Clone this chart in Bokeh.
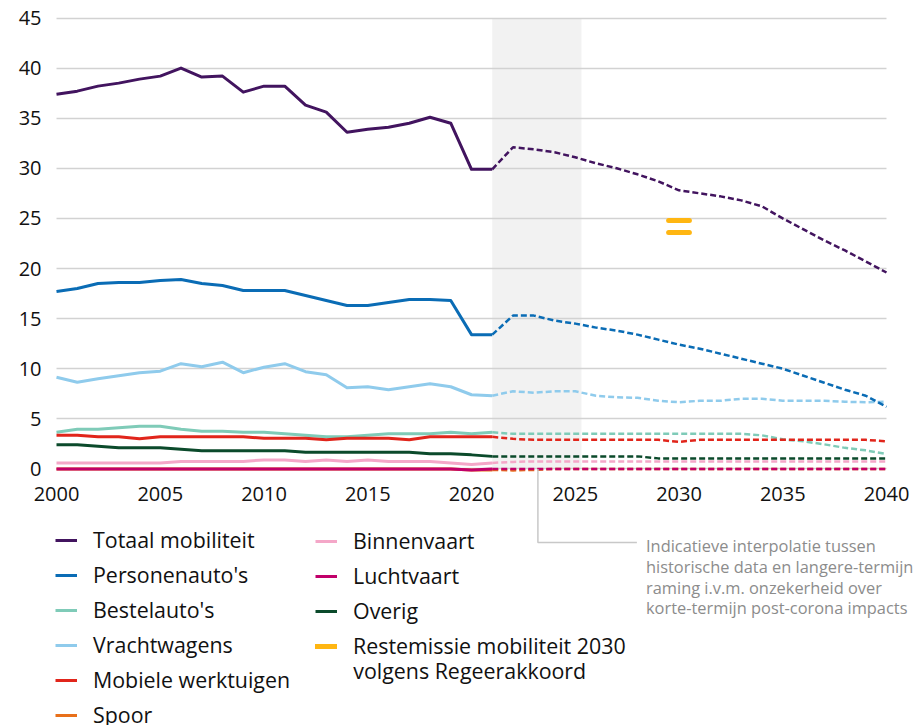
from bokeh.plotting import figure
from bokeh.models import Range1d, FixedTicker, Legend, LegendItem, Label
from bokeh.embed import file_html
from bokeh.resources import INLINE

# ---------------- data ----------------
years_hist = list(range(2000, 2022))
years_proj = list(range(2021, 2041))

totaal_hist = [37.4, 37.7, 38.2, 38.5, 38.9, 39.2, 40.0, 39.1, 39.2, 37.6, 38.2,
               38.2, 36.3, 35.6, 33.6, 33.9, 34.1, 34.5, 35.1, 34.5, 29.9, 29.9]
totaal_proj = [29.9, 32.1, 31.9, 31.6, 31.1, 30.5, 30.0, 29.4, 28.7, 27.8,
               27.5, 27.2, 26.8, 26.2, 25.0, 23.9, 22.8, 21.8, 20.7, 19.6]

personen_hist = [17.7, 18.0, 18.5, 18.6, 18.6, 18.8, 18.9, 18.5, 18.3, 17.8, 17.8,
                 17.8, 17.3, 16.8, 16.3, 16.3, 16.6, 16.9, 16.9, 16.8, 13.4, 13.4]
personen_proj = [13.4, 15.3, 15.3, 14.8, 14.5, 14.1, 13.8, 13.4, 12.9, 12.4,
                 12.0, 11.5, 11.0, 10.5, 10.0, 9.3, 8.6, 7.9, 7.3, 6.2]

bestel_hist = [3.65, 3.95, 3.95, 4.1, 4.25, 4.25, 3.95, 3.75, 3.75, 3.65, 3.65,
               3.5, 3.35, 3.2, 3.2, 3.35, 3.5, 3.5, 3.5, 3.65, 3.5, 3.65]
bestel_proj = [3.65, 3.5, 3.5, 3.5, 3.5, 3.5, 3.5, 3.5, 3.5, 3.5,
               3.5, 3.5, 3.5, 3.35, 2.95, 2.75, 2.45, 2.1, 1.85, 1.5]

vracht_hist = [9.15, 8.65, 9.0, 9.3, 9.6, 9.75, 10.5, 10.2, 10.65, 9.6, 10.15,
               10.5, 9.7, 9.4, 8.1, 8.2, 7.9, 8.2, 8.5, 8.2, 7.4, 7.3]
vracht_proj = [7.3, 7.75, 7.6, 7.75, 7.75, 7.3, 7.15, 7.1, 6.8, 6.65,
               6.8, 6.8, 7.0, 7.0, 6.8, 6.8, 6.8, 6.7, 6.65, 6.7]

mobiel_hist = [3.35, 3.35, 3.2, 3.2, 3.0, 3.2, 3.2, 3.2, 3.2, 3.2, 3.05,
               3.05, 3.05, 2.9, 3.05, 3.05, 3.05, 2.9, 3.2, 3.2, 3.2, 3.2]
mobiel_proj = [3.2, 3.0, 2.9, 2.9, 2.9, 2.9, 2.9, 2.9, 2.9, 2.7,
               2.9, 2.9, 2.9, 2.9, 2.9, 2.9, 2.9, 2.9, 2.9, 2.75]

spoor_hist = [0.0] * 20 + [-0.1, -0.1]
spoor_proj = [-0.1, -0.15, -0.1, 0.0, 0.0, 0.0, 0.0, 0.0, 0.0, 0.0,
              0.0, 0.0, 0.0, 0.0, 0.0, 0.0, 0.0, 0.0, 0.0, 0.0]

binnen_hist = [0.6, 0.6, 0.6, 0.6, 0.6, 0.6, 0.75, 0.75, 0.75, 0.75, 0.9,
               0.9, 0.75, 0.9, 0.75, 0.9, 0.75, 0.75, 0.75, 0.6, 0.45, 0.6]
binnen_proj = [0.6, 0.7] + [0.75] * 18

lucht_hist = [0.0] * 20 + [-0.1, 0.0]
lucht_proj = [0.0] * 20

overig_hist = [2.4, 2.4, 2.25, 2.1, 2.1, 2.1, 1.95, 1.8, 1.8, 1.8, 1.8,
               1.8, 1.65, 1.65, 1.65, 1.65, 1.65, 1.65, 1.5, 1.5, 1.4, 1.25]
overig_proj = [1.25] * 8 + [1.05] * 12

rest_year = 2030
rest_values = [24.8, 23.6]

band_start, band_end = 2021, 2025.3
x_ticks = [2000, 2005, 2010, 2015, 2020, 2025, 2030, 2035, 2040]
y_ticks = [0, 5, 10, 15, 20, 25, 30, 35, 40, 45]

series = [
    # name, hist, proj, colour
    ("Spoor", spoor_hist, spoor_proj, "#e8701a"),
    ("Luchtvaart", lucht_hist, lucht_proj, "#c1006a"),
    ("Binnenvaart", binnen_hist, binnen_proj, "#f4a7c8"),
    ("Overig", overig_hist, overig_proj, "#0b4a2b"),
    ("Bestelauto's", bestel_hist, bestel_proj, "#7fcbb8"),
    ("Mobiele werktuigen", mobiel_hist, mobiel_proj, "#e1251b"),
    ("Vrachtwagens", vracht_hist, vracht_proj, "#8fcbec"),
    ("Personenauto's", personen_hist, personen_proj, "#0a6cb5"),
    ("Totaal mobiliteit", totaal_hist, totaal_proj, "#42145f"),
]

FONT = "Open Sans"
W, H = 914, 725
PX_YR = 20.75      # pixels per year
PX_UNIT = 10.02    # pixels per Mton

p = figure(width=W, height=H,
           x_range=Range1d(2000 - 56 / PX_YR, 2040 + 28 / PX_YR),
           y_range=Range1d(-(H - 468.4) / PX_UNIT, 45 + 17.5 / PX_UNIT),
           output_backend="svg", toolbar_location=None,
           min_border=0, min_border_left=0, min_border_right=0,
           min_border_top=0, min_border_bottom=0)
p.outline_line_color = None
p.background_fill_color = "white"

# shaded interpolation band
p.quad(left=[band_start], right=[band_end], bottom=[0], top=[45],
       fill_color="#f2f2f2", line_color=None, level="image")

# grid
p.xgrid.visible = False
p.ygrid.ticker = FixedTicker(ticks=y_ticks)
p.ygrid.grid_line_color = "#d2d2d2"
p.ygrid.grid_line_width = 1.5
p.ygrid.cross_bounds = (2000, 2040)

# axes (drawn inside the frame at fixed data locations)
p.xaxis.fixed_location = 0
p.yaxis.fixed_location = 2000
p.xaxis.ticker = FixedTicker(ticks=x_ticks)
p.yaxis.ticker = FixedTicker(ticks=y_ticks)
for ax in (p.xaxis[0], p.yaxis[0]):
    ax.axis_line_color = None
    ax.major_tick_line_color = None
    ax.minor_tick_line_color = None
    ax.major_label_text_font = FONT
    ax.major_label_text_font_size = "20px"
    ax.major_label_text_color = "#111111"
p.yaxis.major_label_standoff = 9
p.xaxis.major_label_standoff = 12

renderers = {}
for name, hist, proj, col in series:
    r = p.line(years_hist, hist, line_color=col, line_width=3, line_join="round")
    p.line(years_proj, proj, line_color=col, line_width=2.5, line_dash="6 3")
    renderers[name] = r

rest_r = p.segment(x0=[rest_year - 0.5] * 2, x1=[rest_year + 0.5] * 2,
                   y0=rest_values, y1=rest_values,
                   line_color="#ffb612", line_width=5, line_cap="round")

# connector for annotation
p.line([2023.2, 2023.2, 2027.97], [0, -7.35, -7.35], line_color="#c8c8c8", line_width=1.5)

note_lines = ["Indicatieve interpolatie tussen",
              "historische data en langere-termijn",
              "raming i.v.m. onzekerheid over",
              "korte-termijn post-corona impacts"]
for i, t in enumerate(note_lines):
    p.add_layout(Label(x=2028.41, y=-7.64 - i * 2.08, text=t, text_font=FONT,
                       text_font_size="16.4px", text_color="#8c8c8c",
                       text_baseline="middle"))

leg_kw = dict(label_text_font=FONT, label_text_font_size="21.4px", label_text_color="#111111",
              glyph_width=22, glyph_height=20, label_height=20, label_standoff=16,
              spacing=6, padding=0, margin=0, border_line_color=None,
              background_fill_alpha=0)

col1 = ["Totaal mobiliteit", "Personenauto's", "Bestelauto's", "Vrachtwagens",
        "Mobiele werktuigen", "Spoor"]
col2 = ["Binnenvaart", "Luchtvaart", "Overig"]

leg1 = Legend(items=[LegendItem(label=n, renderers=[renderers[n]]) for n in col1],
              location=(55, -4), **leg_kw)
leg2_items = [LegendItem(label=n, renderers=[renderers[n]]) for n in col2]
leg2_items.append(LegendItem(label="Restemissie mobiliteit 2030", renderers=[rest_r]))
leg2 = Legend(items=leg2_items, location=(315, 65), **leg_kw)
p.add_layout(leg1)
p.add_layout(leg2)
p.add_layout(Label(x=2014.3, y=-20.1, text="volgens Regeerakkoord", text_font=FONT,
                   text_font_size="21.4px", text_color="#111111", text_baseline="middle"))

open("out.html", "w").write(file_html(p, INLINE))
